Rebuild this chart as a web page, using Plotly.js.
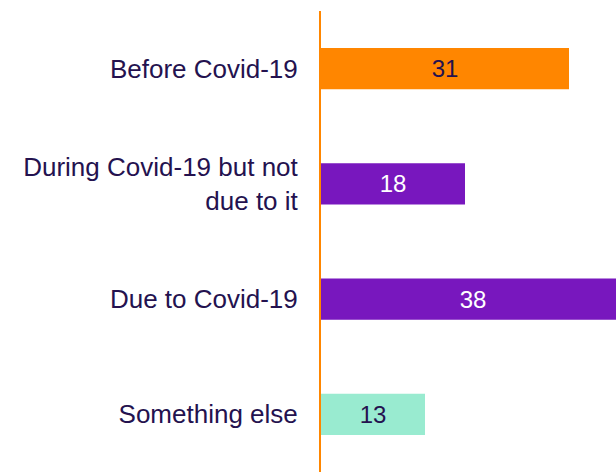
<!DOCTYPE html>
<html>
<head>
<meta charset="utf-8">
<script src="https://cdn.plot.ly/plotly-3.0.1.min.js"></script>
<style>html,body{margin:0;padding:0;background:#fff;}#chart{width:616px;height:472px;}</style>
</head>
<body>
<div id="chart"></div>
<script>
var categories = ["Before Covid-19", "During Covid-19 but not<br>due to it", "Due to Covid-19", "Something else"];
var values = [31, 18, 38, 13];
var barColors = ["#FF8600", "#7817BE", "#7817BE", "#99EBD0"];
var textColors = ["#24124F", "#FFFFFF", "#FFFFFF", "#24124F"];

var trace = {
  type: "bar",
  orientation: "h",
  y: categories,
  x: values,
  marker: {color: barColors},
  text: values.map(String),
  textposition: "inside",
  insidetextanchor: "middle",
  textangle: 0,
  constraintext: "none",
  insidetextfont: {family: "Liberation Sans, Arial, sans-serif", size: 24, color: textColors},
  hoverinfo: "none",
  cliponaxis: true
};

var layout = {
  width: 616,
  height: 472,
  margin: {l: 321, r: 0, t: 11, b: 0, pad: 0},
  paper_bgcolor: "#FFFFFF",
  plot_bgcolor: "#FFFFFF",
  showlegend: false,
  bargap: 0.64,
  xaxis: {
    range: [0, 36.875],
    showgrid: false,
    zeroline: false,
    showticklabels: false,
    showline: false,
    ticks: "",
    fixedrange: true
  },
  yaxis: {
    autorange: false,
    range: [3.5, -0.5],
    showgrid: false,
    zeroline: false,
    showline: true,
    linecolor: "#FF8600",
    linewidth: 2,
    ticks: "outside",
    ticklen: 16,
    tickcolor: "rgba(0,0,0,0)",
    tickfont: {family: "Liberation Sans, Arial, sans-serif", size: 26, color: "#24124F"},
    fixedrange: true
  },
  font: {family: "Liberation Sans, Arial, sans-serif"}
};

Plotly.newPlot("chart", [trace], layout, {displayModeBar: false, staticPlot: true});
</script>
</body>
</html>
